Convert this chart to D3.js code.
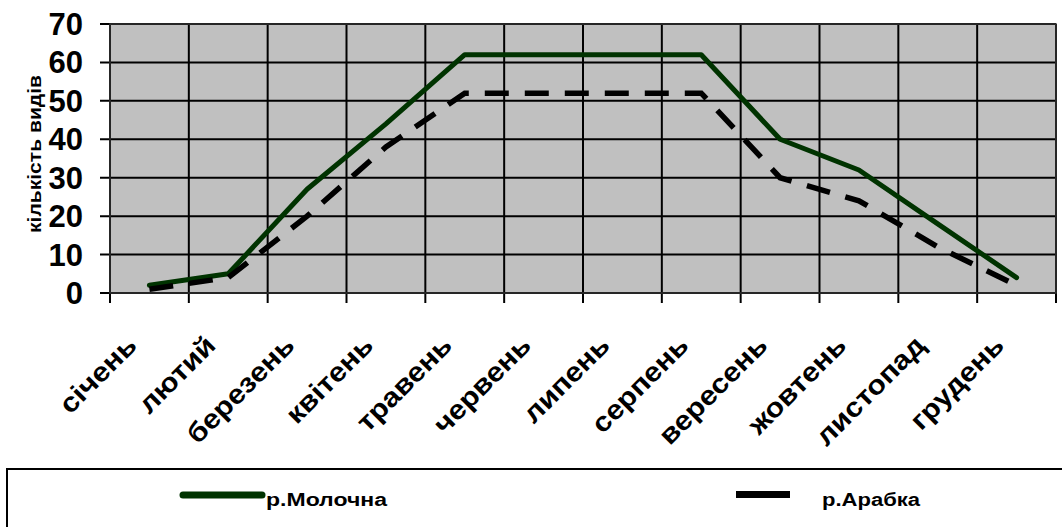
<!DOCTYPE html>
<html><head><meta charset="utf-8">
<script src="https://cdn.jsdelivr.net/npm/d3@7/dist/d3.min.js"></script>
<style>body{margin:0;background:#fff;}svg{display:block;font-family:"Liberation Sans",Arial,sans-serif;}</style>
</head><body>
<script>
const months = ["січень","лютий","березень","квітень","травень","червень","липень","серпень","вересень","жовтень","листопад","грудень"];
const molochna = [2,5,27,44,62,62,62,62,40,32,18,4];
const arabka = [1,4,20,38,52,52,52,52,30,24,12,2];
const yTicks = [0,10,20,30,40,50,60,70];
const seriesNames = ["р.Молочна","р.Арабка"];
const yTitle = "кількість видів";

const W=1062,H=527;
const svg=d3.select("body").append("svg").attr("width",W).attr("height",H);
const L=110,R=1056,T=24,B=293;
const x=d3.scaleBand().domain(months).range([L,R]).padding(0);
const y=d3.scaleLinear().domain([0,70]).range([B,T]);

svg.append("rect").attr("x",L).attr("y",T).attr("width",R-L).attr("height",B-T).attr("fill","#c0c0c0");
svg.append("g").selectAll("line").data(yTicks).join("line")
  .attr("x1",L-10).attr("x2",R).attr("y1",d=>y(d)).attr("y2",d=>y(d))
  .attr("stroke","#000").attr("stroke-width",2);
const bounds=months.map(m=>x(m)).concat([R]);
svg.append("g").selectAll("line").data(bounds).join("line")
  .attr("x1",d=>d).attr("x2",d=>d).attr("y1",T).attr("y2",B+10)
  .attr("stroke","#000").attr("stroke-width",2);
svg.append("rect").attr("x",L).attr("y",T).attr("width",R-L).attr("height",B-T).attr("fill","none").attr("stroke","#333").attr("stroke-width",1.5);

// y labels
svg.append("g").selectAll("text").data(yTicks).join("text")
  .attr("x",83).attr("y",d=>y(d)+11).attr("text-anchor","end")
  .attr("font-size",31).attr("font-weight","bold").text(d=>d);
svg.append("text").attr("transform","translate(41,154) rotate(-90)").attr("text-anchor","middle")
  .attr("font-size",18).attr("font-weight","bold")
  .attr("textLength",158).attr("lengthAdjust","spacingAndGlyphs").text(yTitle);

// x labels
svg.append("g").selectAll("text").data(months).join("text")
  .attr("transform",d=>`translate(${x(d)+x.bandwidth()/2-11},${B+54}) rotate(-45) scale(1.12,1)`)
  .attr("text-anchor","end").attr("font-size",27).attr("font-weight","bold").text(d=>d);

const line=d3.line().x((d,i)=>x(months[i])+x.bandwidth()/2).y(d=>y(d));
svg.append("path").datum(molochna).attr("d",line).attr("fill","none")
  .attr("stroke","#003300").attr("stroke-width",5).attr("stroke-linejoin","round").attr("stroke-linecap","round");
svg.append("path").datum(arabka).attr("d",line).attr("fill","none")
  .attr("stroke","#000").attr("stroke-width",5.5).attr("stroke-dasharray","24,16");

// legend
svg.append("rect").attr("x",7).attr("y",469).attr("width",1070).attr("height",70).attr("fill","#fff").attr("stroke","#000").attr("stroke-width",2);
svg.append("line").attr("x1",183).attr("x2",262).attr("y1",495).attr("y2",495).attr("stroke","#003300").attr("stroke-width",7).attr("stroke-linecap","round");
svg.append("text").attr("x",266).attr("y",506).attr("font-size",18).attr("font-weight","bold")
  .attr("textLength",121).attr("lengthAdjust","spacingAndGlyphs").text(seriesNames[0]);
svg.append("line").attr("x1",736).attr("x2",790).attr("y1",494.5).attr("y2",494.5).attr("stroke","#000").attr("stroke-width",7);
svg.append("text").attr("x",822).attr("y",506).attr("font-size",18).attr("font-weight","bold")
  .attr("textLength",98).attr("lengthAdjust","spacingAndGlyphs").text(seriesNames[1]);
</script>
</body></html>
